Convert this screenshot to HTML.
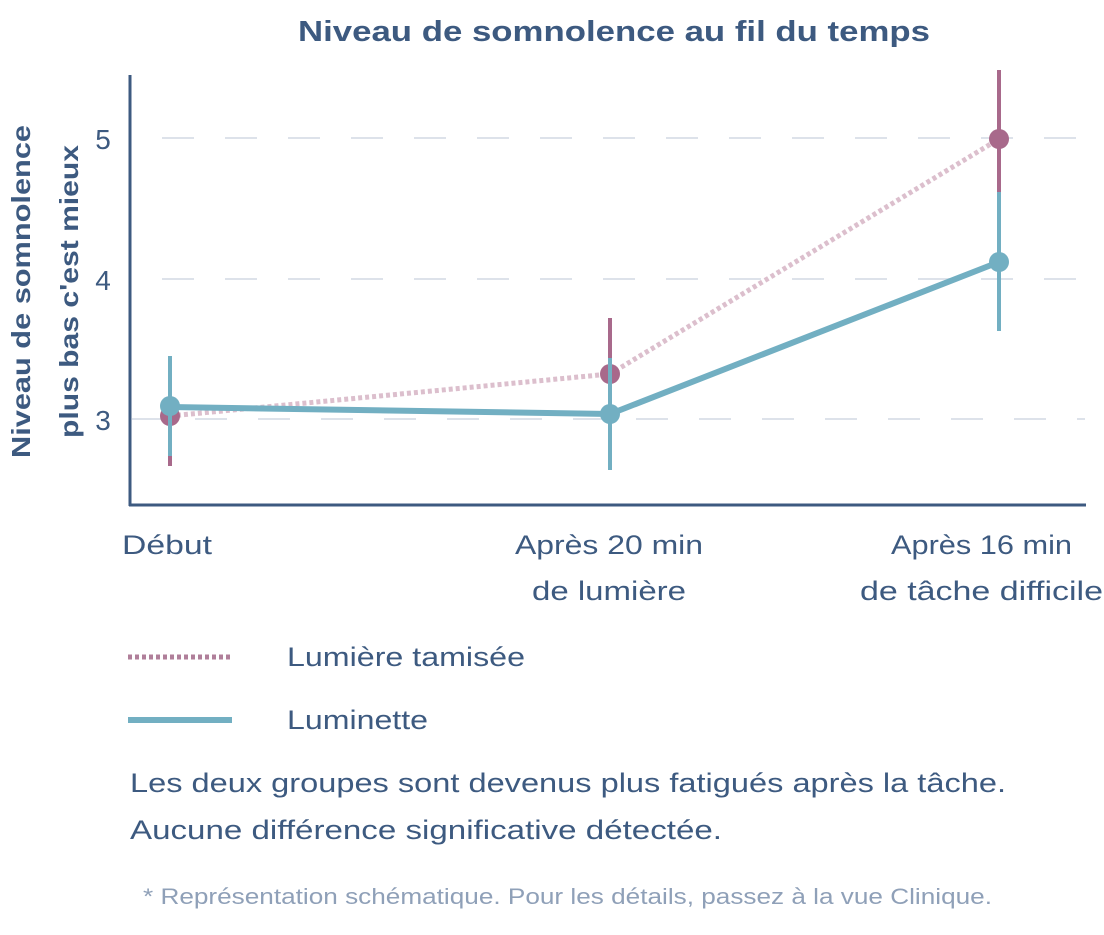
<!DOCTYPE html>
<html><head><meta charset="utf-8"><style>
body{margin:0;background:#fff;}
svg text{font-family:"Liberation Sans",sans-serif;}
</style></head><body>
<svg width="1104" height="930" viewBox="0 0 1104 930" xmlns="http://www.w3.org/2000/svg">
<text x="298" y="41" font-size="29" font-weight="bold" fill="#3d5a80" textLength="632" lengthAdjust="spacingAndGlyphs">Niveau de somnolence au fil du temps</text>
<g stroke="#dde2ea" stroke-width="2" stroke-dasharray="32,31">
<line x1="162" y1="138" x2="1085" y2="138"/>
<line x1="162" y1="279" x2="1085" y2="279"/>
<line x1="132" y1="419" x2="1085" y2="419"/>
</g>
<line x1="130" y1="75" x2="130" y2="506" stroke="#3d5a80" stroke-width="3"/>
<line x1="129" y1="505" x2="1086" y2="505" stroke="#3d5a80" stroke-width="3"/>
<g font-size="28" fill="#3d5a80">
<text x="103" y="149" text-anchor="middle">5</text>
<text x="103" y="290" text-anchor="middle">4</text>
<text x="103" y="430" text-anchor="middle">3</text>
</g>
<text transform="translate(30,458) rotate(-90)" font-size="26" font-weight="bold" fill="#3d5a80" textLength="333" lengthAdjust="spacingAndGlyphs">Niveau de somnolence</text>
<text transform="translate(78,438) rotate(-90)" font-size="26" font-weight="bold" fill="#3d5a80" textLength="293" lengthAdjust="spacingAndGlyphs">plus bas c'est mieux</text>
<g font-size="27" fill="#3d5a80">
<text x="122" y="554" textLength="90" lengthAdjust="spacingAndGlyphs">Début</text>
<text x="515" y="554" textLength="188" lengthAdjust="spacingAndGlyphs">Après 20 min</text>
<text x="532" y="600" textLength="154" lengthAdjust="spacingAndGlyphs">de lumière</text>
<text x="891" y="554" textLength="181" lengthAdjust="spacingAndGlyphs">Après 16 min</text>
<text x="860" y="600" textLength="243" lengthAdjust="spacingAndGlyphs">de tâche difficile</text>
</g>
<polyline points="170,416 610,374 999,139" fill="none" stroke="#dcbfcd" stroke-width="5" stroke-dasharray="4,3"/>
<g stroke="#a8698b" stroke-width="4">
<line x1="170" y1="380" x2="170" y2="466"/>
<line x1="610" y1="318" x2="610" y2="420"/>
<line x1="999" y1="70" x2="999" y2="200"/>
</g>
<g fill="#a8698b">
<circle cx="170" cy="416" r="10"/><circle cx="610" cy="374" r="10"/><circle cx="999" cy="139" r="10"/>
</g>
<polyline points="170,407 610,414 999,262" fill="none" stroke="#72afc2" stroke-width="6"/>
<g stroke="#72afc2" stroke-width="4">
<line x1="170" y1="356" x2="170" y2="456"/>
<line x1="610" y1="358" x2="610" y2="470"/>
<line x1="999" y1="192" x2="999" y2="331"/>
</g>
<g fill="#72afc2">
<circle cx="170" cy="406" r="10"/><circle cx="610" cy="414" r="10"/><circle cx="999" cy="262" r="10"/>
</g>
<line x1="128" y1="657" x2="232" y2="657" stroke="#b07f9a" stroke-width="5" stroke-dasharray="4,3"/>
<text x="287" y="666" font-size="27" fill="#3d5a80" textLength="238" lengthAdjust="spacingAndGlyphs">Lumière tamisée</text>
<line x1="128" y1="720" x2="232" y2="720" stroke="#72afc2" stroke-width="6"/>
<text x="287" y="729" font-size="27" fill="#3d5a80" textLength="141" lengthAdjust="spacingAndGlyphs">Luminette</text>
<text x="130" y="792" font-size="27" fill="#3d5a80" textLength="876" lengthAdjust="spacingAndGlyphs">Les deux groupes sont devenus plus fatigués après la tâche.</text>
<text x="130" y="839" font-size="27" fill="#3d5a80" textLength="592" lengthAdjust="spacingAndGlyphs">Aucune différence significative détectée.</text>
<text x="143" y="904" font-size="22" fill="#8fa0b8" textLength="849" lengthAdjust="spacingAndGlyphs">* Représentation schématique. Pour les détails, passez à la vue Clinique.</text>
</svg>
</body></html>
